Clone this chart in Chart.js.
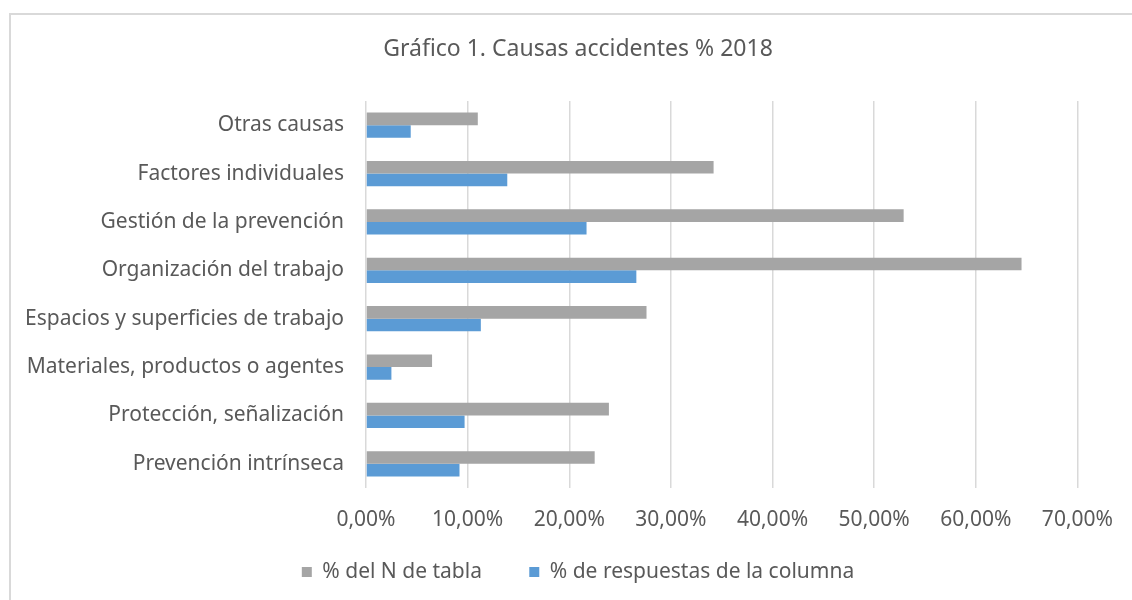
<!DOCTYPE html>
<html>
<head>
<meta charset="utf-8">
<script src="https://cdn.jsdelivr.net/npm/chart.js@4/dist/chart.umd.min.js"></script>
<style>
  html, body { margin: 0; padding: 0; background: #fff; }
  #wrap { width: 1132px; height: 600px; }
</style>
</head>
<body>
<div id="wrap"><canvas id="causasChart" width="1132" height="600"></canvas></div>
<script>
const categorias = [
  'Otras causas',
  'Factores individuales',
  'Gestión de la prevención',
  'Organización del trabajo',
  'Espacios y superficies de trabajo',
  'Materiales, productos o agentes',
  'Protección, señalización',
  'Prevención intrínseca'
];
const nTabla = [11.0, 34.2, 52.9, 64.5, 27.6, 6.5, 23.9, 22.5];
const respuestasColumna = [4.4, 13.9, 21.7, 26.6, 11.3, 2.5, 9.7, 9.2];
const ticksX = [0, 10, 20, 30, 40, 50, 60, 70];

const textColor = '#595959';
const fontFamily = "'Noto Sans', 'Open Sans', sans-serif";

// marco gris claro como en Excel
const marco = {
  id: 'marco',
  beforeDraw(chart) {
    const ctx = chart.ctx;
    ctx.save();
    ctx.strokeStyle = '#d9d9d9';
    ctx.lineWidth = 2;
    ctx.strokeRect(10, 14, 1140, 600);
    ctx.restore();
  }
};

const ctx = document.getElementById('causasChart').getContext('2d');

new Chart(ctx, {
  type: 'bar',
  data: {
    labels: categorias,
    datasets: [
      {
        label: '% del N de tabla',
        data: nTabla,
        backgroundColor: '#A5A5A5',
        categoryPercentage: 0.52,
        barPercentage: 1.0
      },
      {
        label: '% de respuestas de la columna',
        data: respuestasColumna,
        backgroundColor: '#5B9BD5',
        categoryPercentage: 0.52,
        barPercentage: 1.0
      }
    ]
  },
  options: {
    indexAxis: 'y',
    responsive: false,
    animation: false,
    layout: { padding: { left: 24, right: 0, top: 0, bottom: 7.5 } },
    scales: {
      x: {
        min: 0,
        max: 70,
        afterBuildTicks(scale) {
          scale.ticks = ticksX.map(v => ({ value: v }));
        },
        afterFit(scale) { scale.height = 53.5; },
        grid: { color: '#d9d9d9', lineWidth: 1.5, drawTicks: false },
        border: { display: false },
        ticks: {
          color: textColor,
          padding: 19,
          font: { family: fontFamily, size: 21 },
          callback: v => v.toFixed(2).replace('.', ',') + '%'
        }
      },
      y: {
        afterFit(scale) { scale.width = 342; },
        grid: { display: false, drawTicks: false },
        border: { display: false },
        ticks: {
          color: textColor,
          padding: 22,
          font: { family: fontFamily, size: 21 }
        }
      },
      // eje vacío a la derecha, sólo reserva el margen
      margenDerecho: {
        type: 'category',
        axis: 'y',
        position: 'right',
        labels: categorias,
        afterFit(scale) { scale.width = 53; },
        grid: { display: false, drawTicks: false },
        border: { display: false },
        ticks: { display: false }
      }
    },
    plugins: {
      title: {
        display: true,
        text: 'Gráfico 1. Causas accidentes % 2018',
        color: textColor,
        font: { family: fontFamily, size: 23, weight: 'normal' },
        padding: { top: 36, bottom: 37.4 }
      },
      legend: {
        position: 'bottom',
        labels: {
          color: textColor,
          boxWidth: 10,
          boxHeight: 10,
          padding: 20,
          font: { family: fontFamily, size: 21 },
          generateLabels(chart) {
            const items = Chart.defaults.plugins.legend.labels.generateLabels(chart);
            items.forEach((it, i) => {
              it.lineWidth = 0;
              if (i === 0) it.text = it.text + '     ';
            });
            return items;
          }
        }
      },
      tooltip: { enabled: false }
    }
  },
  plugins: [marco]
});
</script>
</body>
</html>
